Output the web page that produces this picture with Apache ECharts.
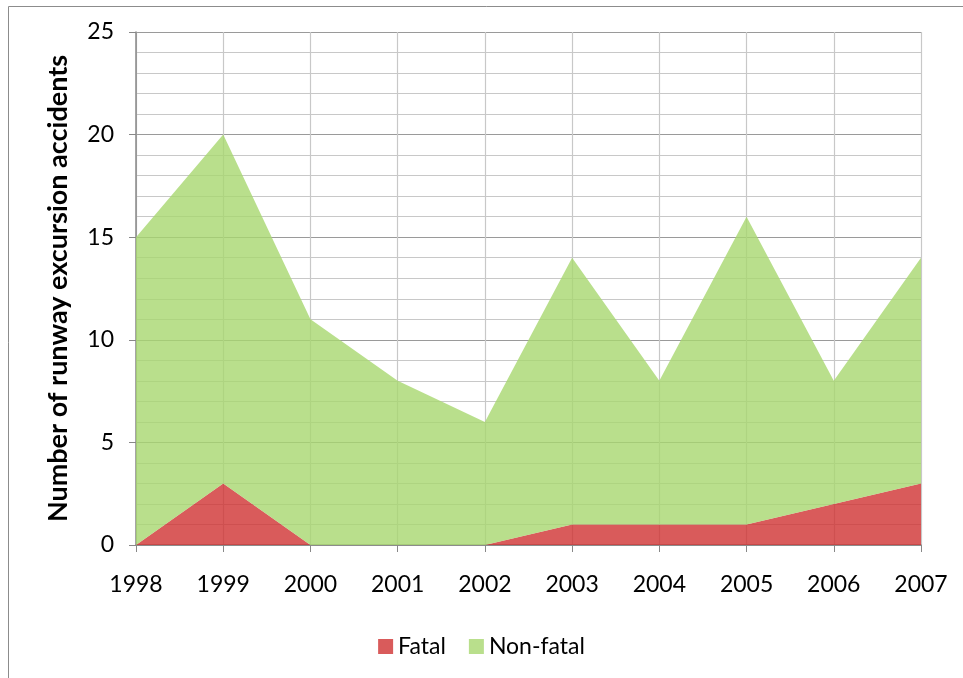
<!DOCTYPE html>
<html>
<head>
<meta charset="utf-8">
<script src="https://cdn.jsdelivr.net/npm/echarts@6/dist/echarts.min.js"></script>
<style>
html, body { margin: 0; padding: 0; background: #fff; }
#chart { width: 963px; height: 678px; }
</style>
</head>
<body>
<div id="chart"></div>
<script>
// years and accidents per year
var years = ["1998", "1999", "2000", "2001", "2002", "2003", "2004", "2005", "2006", "2007"];
var fatal = [0, 3, 0, 0, 0, 1, 1, 1, 2, 3];
var nonFatal = [15, 17, 11, 8, 6, 13, 7, 15, 6, 11];

var myChart = echarts.init(document.getElementById("chart"));
myChart.setOption({
  animation: false,
  textStyle: { fontFamily: "Lato" },
  graphic: [
    {
      type: "rect",
      shape: { x: 8.5, y: 6.5, width: 1100, height: 1100 },
      style: { fill: "none", stroke: "#8c8c8c", lineWidth: 1 },
      silent: true
    }
  ],
  grid: { left: 136, right: 42, top: 32, bottom: 133 },
  legend: {
    data: ["Fatal", "Non-fatal"],
    top: 630,
    left: "center",
    icon: "rect",
    itemWidth: 15,
    itemHeight: 15,
    itemGap: 23,
    textStyle: { fontSize: 23, color: "#000", fontFamily: "Lato" }
  },
  xAxis: {
    type: "category",
    boundaryGap: false,
    data: years,
    axisLine: { lineStyle: { color: "#888", width: 1.5 } },
    axisTick: { show: true, length: 7, lineStyle: { color: "#888" } },
    axisLabel: { fontSize: 23, color: "#000", margin: 28 },
    splitLine: { show: true, lineStyle: { color: "#c8c8c8", width: 1.2 } }
  },
  yAxis: {
    type: "value",
    min: 0,
    max: 25,
    interval: 5,
    name: "Number of runway excursion accidents",
    nameLocation: "middle",
    nameGap: 64,
    nameTextStyle: { fontSize: 27, fontWeight: "bold", color: "#000" },
    axisLine: { show: true, lineStyle: { color: "#888", width: 1.5 } },
    axisTick: { show: true, length: 7, lineStyle: { color: "#888" } },
    axisLabel: { fontSize: 23, color: "#000", margin: 22 },
    splitLine: { show: true, lineStyle: { color: "#9a9a9a", width: 1.2 } },
    minorTick: { show: false, splitNumber: 5 },
    minorSplitLine: { show: true, lineStyle: { color: "#c8c8c8", width: 1.2 } }
  },
  series: [
    {
      name: "Fatal",
      type: "line",
      stack: "total",
      data: fatal,
      showSymbol: false,
      lineStyle: { width: 0 },
      color: "#d95b5b",
      areaStyle: { color: "#cf3232", opacity: 0.8 }
    },
    {
      name: "Non-fatal",
      type: "line",
      stack: "total",
      data: nonFatal,
      showSymbol: false,
      lineStyle: { width: 0 },
      color: "#b9df8c",
      areaStyle: { color: "#a7d76f", opacity: 0.8 }
    }
  ]
});
</script>
</body>
</html>
